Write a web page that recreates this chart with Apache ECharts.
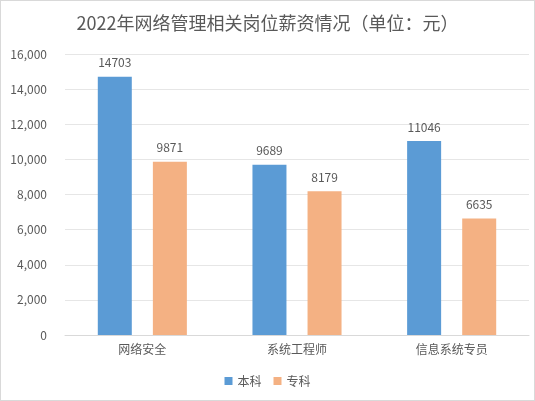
<!DOCTYPE html>
<html><head><meta charset="utf-8">
<script src="https://cdn.jsdelivr.net/npm/echarts@6/dist/echarts.min.js"></script>
<style>html,body{margin:0;padding:0;background:#fff}#c{width:533px;height:399px;border:1px solid #d9d9d9}</style>
</head><body><div id="c"></div>
<script>
const categories = ['网络安全','系统工程师','信息系统专员'];
const benke = [14703, 9689, 11046];
const zhuanke = [9871, 8179, 6635];
const yTicks = [0,2000,4000,6000,8000,10000,12000,14000,16000];
const chart = echarts.init(document.getElementById('c'));
const font = '"Noto Sans CJK SC", sans-serif';
chart.setOption({
  animation:false,
  title:{text:'2022年网络管理相关岗位薪资情况（单位：元）',left:'center',top:8,
    textStyle:{fontSize:18,fontWeight:'normal',color:'#595959',fontFamily:font}},
  legend:{bottom:8,itemWidth:8,itemHeight:8,itemGap:12,icon:'rect',
    textStyle:{color:'#595959',fontSize:12,fontFamily:font}},
  grid:{left:64,right:5,top:53,bottom:65},
  xAxis:{type:'category',data:categories,axisTick:{show:false},
    axisLine:{lineStyle:{color:'#d9d9d9'}},
    axisLabel:{color:'#595959',fontSize:12,fontFamily:font}},
  yAxis:{type:'value',min:yTicks[0],max:yTicks[yTicks.length-1],interval:2000,
    axisLabel:{color:'#595959',fontSize:12,fontFamily:font,margin:18},
    splitLine:{lineStyle:{color:'#e6e6e6'}}},
  series:[
    {name:'本科',type:'bar',data:benke,barWidth:34,barGap:'62%',itemStyle:{color:'#5B9BD5'},
     label:{show:true,position:'top',color:'#595959',fontSize:12,distance:8,fontFamily:font}},
    {name:'专科',type:'bar',data:zhuanke,barWidth:34,itemStyle:{color:'#F4B183'},
     label:{show:true,position:'top',color:'#595959',fontSize:12,distance:8,fontFamily:font}}
  ]
});
</script></body></html>
